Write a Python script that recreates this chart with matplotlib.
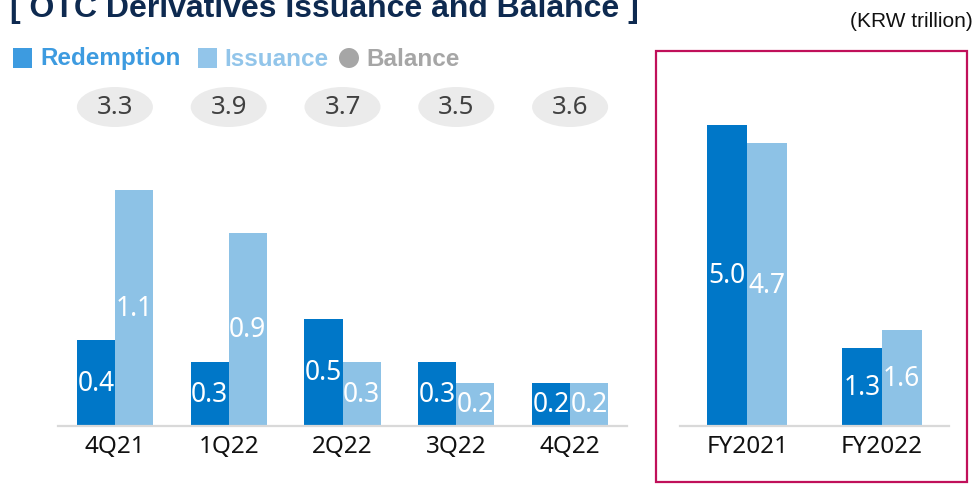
import matplotlib.pyplot as plt
from matplotlib.patches import Ellipse, Rectangle

# Data (KRW trillion)
quarters = ['4Q21', '1Q22', '2Q22', '3Q22', '4Q22']
q_redemption = [0.4, 0.3, 0.5, 0.3, 0.2]
q_issuance = [1.1, 0.9, 0.3, 0.2, 0.2]
q_balance = [3.3, 3.9, 3.7, 3.5, 3.6]

years = ['FY2021', 'FY2022']
y_redemption = [5.0, 1.3]
y_issuance = [4.7, 1.6]

c_red = '#0077c8'
c_iss = '#8dc2e6'
c_axis = '#d9d9d9'

W, H = 974, 502
fig = plt.figure(figsize=(W / 100, H / 100), dpi=100)


def px_box(left, top, right, bottom):
    # pixel box (from top-left) -> figure fraction
    return [left / W, 1 - bottom / H, (right - left) / W, (bottom - top) / H]


def style(ax):
    for s in ['top', 'left', 'right']:
        ax.spines[s].set_visible(False)
    ax.spines['bottom'].set_color(c_axis)
    ax.spines['bottom'].set_linewidth(1.6)
    ax.set_yticks([])
    ax.tick_params(axis='x', length=0, pad=6, labelsize=17.5, labelcolor='#111111')
    for t in ax.get_xticklabels():
        t.set_fontfamily('Noto Sans')


def bars(ax, cats, red, iss, width):
    x = list(range(len(cats)))
    b1 = ax.bar([i - width / 2 for i in x], red, width, color=c_red)
    b2 = ax.bar([i + width / 2 for i in x], iss, width, color=c_iss)
    for b in (b1, b2):
        ax.bar_label(b, fmt='%.1f', label_type='center', color='white',
                     fontsize=19, fontfamily='Noto Sans')
    ax.set_xticks(x, cats)
    ax.set_xlim(-0.5, len(cats) - 0.5)


# quarterly chart
ax1 = fig.add_axes(px_box(58, 88, 627, 427))
bars(ax1, quarters, q_redemption, q_issuance, 0.334)
ax1.set_ylim(0, 339 / 215)
style(ax1)

ell_y = (427 - 108) / 215
for i, v in enumerate(q_balance):
    ax1.add_patch(Ellipse((i, ell_y), 76 / 113.75, 40 / 215,
                          color='#ebebeb', lw=0, clip_on=False))
    ax1.text(i, ell_y, f'{v:.1f}', ha='center', va='center', fontsize=18.5,
             color='#404040', fontfamily='Noto Sans')

# annual chart
ax2 = fig.add_axes(px_box(680, 88, 949, 427))
bars(ax2, years, y_redemption, y_issuance, 0.296)
ax2.set_ylim(0, 339 / 60.2)
style(ax2)

# frame around annual chart
fig.add_artist(Rectangle((656 / W, 1 - 483 / H), (967 - 656) / W, (483 - 52) / H,
                         transform=fig.transFigure, fill=False,
                         ec='#c0105a', lw=1.6))

# title (cut at the top) and unit
fig.text(10 / W, 1 - 17 / H, '[ OTC Derivatives Issuance and Balance ]',
         fontsize=23, fontweight='bold', color='#0e2a50',
         fontfamily='Liberation Sans', va='baseline')
fig.text(973 / W, 1 - 27 / H, '(KRW trillion)', fontsize=15,
         fontfamily='Liberation Sans', ha='right', va='baseline', color='#111111')

# legend
leg_y = 59
fig.add_artist(Rectangle((13 / W, 1 - 69 / H), 19 / W, 20 / H,
                         transform=fig.transFigure, color='#3d9be0', lw=0))
fig.text(40 / W, 1 - leg_y / H, 'Redemption', fontsize=17.5, fontweight='bold',
         color='#3d9be0', fontfamily='Liberation Sans', va='center')
fig.add_artist(Rectangle((198 / W, 1 - 69 / H), 19 / W, 20 / H,
                         transform=fig.transFigure, color='#92c5ea', lw=0))
fig.text(224 / W, 1 - leg_y / H, 'Issuance', fontsize=17.5, fontweight='bold',
         color='#92c5ea', fontfamily='Liberation Sans', va='center')
fig.add_artist(Ellipse((349 / W, 1 - leg_y / H), 20 / W, 20 / H,
                       transform=fig.transFigure, color='#a6a6a6', lw=0))
fig.text(366 / W, 1 - leg_y / H, 'Balance', fontsize=17.5, fontweight='bold',
         color='#a6a6a6', fontfamily='Liberation Sans', va='center')

fig.savefig('out.png', dpi=100)
